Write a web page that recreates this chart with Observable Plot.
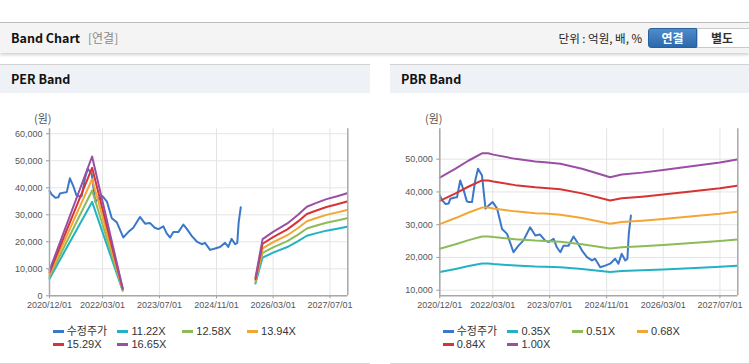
<!DOCTYPE html>
<html><head><meta charset="utf-8">
<script src="https://cdn.jsdelivr.net/npm/d3@7"></script>
<script src="https://cdn.jsdelivr.net/npm/@observablehq/plot@0.6"></script>
<style>
body{margin:0;width:749px;height:364px;overflow:hidden;background:#fff;font-family:"Liberation Sans","Noto Sans CJK KR",sans-serif;position:relative}
.abs{position:absolute}
.hdr{left:0;top:22px;width:749px;height:30px;background:#f4f4f4;border-top:1px solid #bcbcbc;box-shadow:0 2px 3px rgba(0,0,0,0.18)}
.t1{font-family:"Noto Sans CJK KR";font-weight:bold;font-size:12.5px;color:#111;line-height:16px}
.gray{font-family:"Noto Sans CJK KR";font-size:12px;color:#8a8a8a;line-height:16px}
.unit{font-family:"Noto Sans CJK KR";font-size:11.5px;color:#222;line-height:16px}
.btn1{left:648px;top:28px;width:49px;height:20px;background:linear-gradient(#4f8ccc,#2c68ad);border:1px solid #2a5f9c;border-radius:3px 0 0 3px;box-sizing:border-box;color:#fff;font-family:"Noto Sans CJK KR";font-weight:bold;font-size:12px;text-align:center;line-height:18px}
.btn2{left:697px;top:28px;width:56px;height:20px;background:#fff;border:1px solid #c8c8c8;box-sizing:border-box;color:#333;font-family:"Noto Sans CJK KR";font-weight:bold;font-size:12px;text-align:center;line-height:18px;padding-right:6px}
.panel{top:64px;height:298px;border-top:1px solid #d2d2d2;border-bottom:1px solid #d6d6d6;background:#fff}
.ph{left:0;top:0;right:0;height:28px;background:#eef2f7}
.leg{font-size:11px;color:#333;line-height:13px;white-space:nowrap}
.leg .it{position:absolute;}
.leg .mk{position:absolute;left:0;top:5px;width:11px;height:3px}
.leg .tx{position:absolute;left:14px;top:0}
.wl{font-family:"Noto Sans CJK KR";font-size:11px;color:#555;line-height:14px}
</style></head>
<body>
<script>
// ---------- data ----------
const xTickLabels = ["2020-12-01","2022-03-01","2023-07-01","2024-11-01","2026-03-01","2027-07-01"];
const xDomain = ["2020-12-01","2027-12-01"];

const priceName = "수정주가";
const priceDates = ["2020-12-01","2020-12-20","2021-01-20","2021-02-15","2021-03-01","2021-04-10","2021-04-28","2021-05-25","2021-06-25","2021-07-20","2021-08-06","2021-09-03","2021-10-01","2021-10-25","2021-11-28","2021-12-28","2022-01-25","2022-02-28","2022-04-07","2022-05-19","2022-07-01","2022-08-25","2022-10-07","2022-11-19","2023-01-15","2023-02-28","2023-04-10","2023-05-22","2023-06-22","2023-08-04","2023-09-01","2023-10-01","2023-10-28","2023-12-10","2024-01-22","2024-02-22","2024-04-04","2024-05-16","2024-06-28","2024-07-25","2024-09-07","2024-10-19","2024-12-01","2025-01-13","2025-02-10","2025-03-10","2025-04-10","2025-04-28","2025-05-10","2025-05-28"];
const priceValues = [38900,37500,36300,36500,37900,38300,38400,43500,40400,37200,36900,36900,43500,47100,45000,34900,35900,36900,34900,28700,27200,21600,23600,25200,29200,26700,27000,25200,24700,25700,23100,21600,23600,23600,26400,24700,22100,20100,19100,19600,17000,17500,18100,19600,18100,21100,19100,19600,27200,32800];

// PER band (null = no data)
const perNames = ["11.22X","12.58X","13.94X","15.29X","16.65X"];
const perDates = ["2020-12-01","2021-12-01","2022-08-20","2024-01-01","2025-10-01","2025-12-01","2026-03-01","2026-07-01","2026-10-01","2026-12-15","2027-03-01","2027-06-01","2027-09-01","2027-11-25"];
const per1122 = [6330,34770,1890,null,4520,14150,15970,18060,20220,22240,23110,24130,24870,25610];
const per1258 = [7100,38990,2120,null,5060,15870,17910,20250,22670,24930,25920,27050,27880,28710];
const per1394 = [7870,43200,2340,null,5610,17580,19840,22440,25120,27630,28720,29970,30890,31810];
const per1529 = [8630,47390,2570,null,6150,19280,21760,24610,27550,30300,31500,32870,33890,34900];
const per1665 = [9400,51600,2800,null,6700,21000,23700,26800,30000,33000,34300,35800,36900,38000];

// PBR band
const pbrNames = ["0.35X","0.51X","0.68X","0.84X","1.00X"];
const pbrDates = ["2020-12-01","2021-04-15","2021-08-06","2021-11-28","2022-01-20","2022-03-05","2022-09-10","2023-02-28","2023-05-22","2023-10-01","2024-04-04","2024-12-01","2025-03-10","2025-09-01","2026-03-01","2026-12-01","2027-07-01","2027-11-25"];
const pbr035 = [15540,16490,17360,18130,18130,17990,17540,17260,17190,17010,16490,15580,15860,16070,16350,16800,17150,17470];
const pbr051 = [22640,24020,25300,26420,26420,26210,25550,25140,25040,24790,24020,22700,23100,23410,23820,24480,24990,25450];
const pbr068 = [30190,32030,33730,35220,35220,34950,34070,33520,33390,33050,32030,30260,30800,31210,31760,32640,33320,33930];
const pbr084 = [37300,39560,41660,43510,43510,43180,42080,41410,41240,40820,39560,37380,38050,38560,39230,40320,41160,41920];
const pbr100 = [44400,47100,49600,51800,51800,51400,50100,49300,49100,48600,47100,44500,45300,45900,46700,48000,49000,49900];

const perYTicks = [0,10000,20000,30000,40000,50000,60000];
const pbrYTicks = [10000,20000,30000,40000,50000];

const colors = ["#3b78c9","#22b2c4","#8dbb58","#f3a633","#d63434","#9a4fa5"];

// ---------- helpers ----------
const P = d3.utcParse("%Y-%m-%d");
function rows(dates, values){ return dates.map((d,i)=>({date:P(d), value: values[i]==null?NaN:values[i]})); }

function makeChart(opts){
  const {width, marginLeft, marginRight, yDomain, yTicks, bands} = opts;
  const xd = xDomain.map(P);
  const xt = xTickLabels.map(P);
  const price = rows(priceDates, priceValues);
  const marks = [
    Plot.gridX(xt, {stroke:"#e4e4e4", strokeOpacity:1}),
    Plot.gridY(yTicks, {stroke:"#e4e4e4", strokeOpacity:1}),
    Plot.axisX(xt, {tickFormat: d3.utcFormat("%Y/%m/%d"), tickSize:3, tickPadding:3, stroke:"#999", fill:"#555", fontSize:9, label:null}),
    Plot.axisY(yTicks, {tickFormat: d3.format(","), tickSize:3, tickPadding:4, stroke:"#999", fill:"#555", fontSize:9, label:null}),
    Plot.line(price, {x:"date", y:"value", stroke:colors[0], strokeWidth:2}),
    ...bands.map((b,i)=>Plot.line(rows(b.dates,b.values), {x:"date", y:"value", stroke:colors[i+1], strokeWidth:2})),
    Plot.ruleY([yDomain[0]], {stroke:"#a8a8a8", strokeWidth:1.5}),
    Plot.ruleX(xd, {stroke:"#a8a8a8", strokeWidth:1.5})
  ];
  return Plot.plot({
    width, height:215, marginLeft, marginRight, marginTop:28.3, marginBottom:19.7,
    style:{fontFamily:'"Liberation Sans",sans-serif', background:"transparent", overflow:"visible"},
    x:{type:"utc", domain:xd},
    y:{domain:yDomain},
    marks
  });
}

function legend(names, left){
  const div = document.createElement("div");
  div.className = "abs leg";
  div.style.left = left+"px"; div.style.top = "260px"; div.style.width="300px"; div.style.height="30px";
  const all = [priceName, ...names];
  all.forEach((n,i)=>{
    const it = document.createElement("div");
    it.className="it";
    it.style.left = (i%4)*64.8+"px";
    it.style.top = Math.floor(i/4)*13.3+"px";
    const mk = document.createElement("div"); mk.className="mk"; mk.style.background=colors[i];
    const tx = document.createElement("div"); tx.className="tx"; tx.textContent=n;
    it.appendChild(mk); it.appendChild(tx); div.appendChild(it);
  });
  return div;
}

// ---------- layout ----------
document.body.insertAdjacentHTML("beforeend", `
<div class="abs hdr">
  <div class="abs t1" style="left:11px;top:7px">Band Chart</div>
  <div class="abs gray" style="left:88px;top:7px">[연결]</div>
  <div class="abs unit" style="right:107px;top:7px">단위 : 억원, 배, %</div>
</div>
<div class="abs btn1">연결</div>
<div class="abs btn2">별도</div>
<div class="abs panel" id="perP" style="left:0;width:370px"><div class="abs ph"><div class="abs t1" style="left:11px;top:6px">PER Band</div></div></div>
<div class="abs panel" id="pbrP" style="left:390px;width:359px"><div class="abs ph"><div class="abs t1" style="left:11px;top:6px">PBR Band</div></div></div>
`);

const perP = document.getElementById("perP");
const pbrP = document.getElementById("pbrP");

const perChart = makeChart({
  width:370, marginLeft:49, marginRight:22.7,
  yDomain:[0,61850], yTicks:perYTicks,
  bands:[per1122,per1258,per1394,per1529,per1665].map(v=>({dates:perDates, values:v}))
});
perChart.style.position="absolute"; perChart.style.left="0px"; perChart.style.top="35px";
perP.appendChild(perChart);
perP.insertAdjacentHTML("beforeend", `<div class="abs wl" style="left:34px;top:46px">(원)</div>`);
perP.appendChild(legend(perNames, 52.7));

const pbrChart = makeChart({
  width:359, marginLeft:49.3, marginRight:11.7,
  yDomain:[8290,59280], yTicks:pbrYTicks,
  bands:[pbr035,pbr051,pbr068,pbr084,pbr100].map(v=>({dates:pbrDates, values:v}))
});
pbrChart.style.position="absolute"; pbrChart.style.left="0px"; pbrChart.style.top="35px";
pbrP.appendChild(pbrChart);
pbrP.insertAdjacentHTML("beforeend", `<div class="abs wl" style="left:35px;top:46px">(원)</div>`);
pbrP.appendChild(legend(pbrNames, 52.7));
</script>
</body></html>
